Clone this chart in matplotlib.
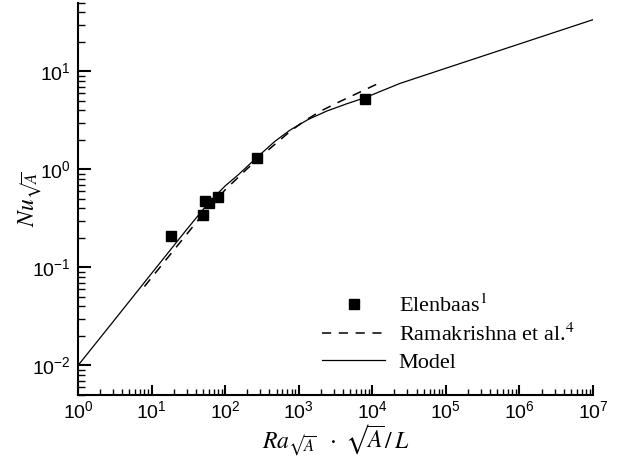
import matplotlib
matplotlib.use("Agg")
import matplotlib.pyplot as plt
from matplotlib.ticker import LogLocator, FixedLocator

plt.rcParams['font.family'] = ['Liberation Sans', 'DejaVu Sans']
plt.rcParams['mathtext.fontset'] = 'stix'

# Elenbaas experimental data
elen_ra = [18.4, 49.5, 53, 60.8, 80.5, 268, 7940]
elen_nu = [0.209, 0.34, 0.475, 0.457, 0.526, 1.32, 5.27]

# Ramakrishna et al. correlation
rama_ra = [8, 20, 50, 100, 200, 400, 760, 1180, 1980, 3330, 6000, 11400]
rama_nu = [0.064, 0.150, 0.35, 0.62, 1.02, 1.62, 2.44, 3.11, 3.94, 4.79, 5.9, 7.4]

# Model
model_ra = [1, 3, 10, 30, 60, 100, 150, 268, 475, 760, 1345, 2390, 4480, 7940, 23700, 1e5, 1e6, 1e7]
model_nu = [0.010, 0.028, 0.087, 0.244, 0.46, 0.68, 0.88, 1.32, 1.94, 2.52, 3.24, 3.94, 4.68, 5.4, 7.55, 10.8, 19.1, 33.8]

# Major tick positions
x_major = [1, 1e1, 1e2, 1e3, 1e4, 1e5, 1e6, 1e7]
y_major = [1e-2, 1e-1, 1, 1e1]

fig = plt.figure(figsize=(6.26, 4.59), dpi=100)
ax = fig.add_axes([78/626, 1-395/459, (593-78)/626, (395-3)/459])

ax.plot(elen_ra, elen_nu, linestyle='none', marker='s', markersize=6.5,
        color='black', label='Elenbaas$^{1}$')
ax.plot(rama_ra, rama_nu, color='black', linewidth=1.1, dashes=(6, 5),
        label='Ramakrishna et al.$^{4}$')
ax.plot(model_ra, model_nu, color='black', linewidth=0.9, label='Model')

ax.set_xscale('log')
ax.set_yscale('log')
ax.set_xlim(1, 1e7)
ax.set_ylim(5e-3, 50)

ax.spines['top'].set_visible(False)
ax.spines['right'].set_visible(False)
for s in ('left', 'bottom'):
    ax.spines[s].set_linewidth(1.5)

ax.xaxis.set_major_locator(FixedLocator(x_major))
ax.xaxis.set_minor_locator(LogLocator(base=10, subs=range(2, 10), numticks=100))
ax.yaxis.set_major_locator(FixedLocator(y_major))
ax.yaxis.set_minor_locator(LogLocator(base=10, subs=range(2, 10), numticks=100))

ax.tick_params(which='both', direction='in', top=False, right=False)
ax.tick_params(axis='x', which='major', length=7, width=1.5, labelsize=14, pad=4)
ax.tick_params(axis='x', which='minor', length=4, width=1.0)
ax.tick_params(axis='y', which='major', length=9, width=1.5, labelsize=14, pad=5)
ax.tick_params(axis='y', which='minor', length=5, width=1.0)

ax.set_xlabel('$Ra_{\u221a\\overline{A}}\\ \\ \\cdot\\ \u221a\\overline{A}\\,/\\,L$', fontsize=17)
ax.xaxis.set_label_coords(0.5, -0.07)
ax.set_ylabel('$Nu_{\u221a\\overline{A}}$', fontsize=17)
ax.yaxis.set_label_coords(-0.066, 0.5)

leg = ax.legend(loc='upper left', bbox_to_anchor=(0.474, 0.257), frameon=False,
                prop={'family': 'Liberation Serif', 'size': 16},
                handlelength=2.85, handletextpad=0.6, labelspacing=0.3,
                borderaxespad=0, borderpad=0)

fig.savefig('out.png', dpi=100)
